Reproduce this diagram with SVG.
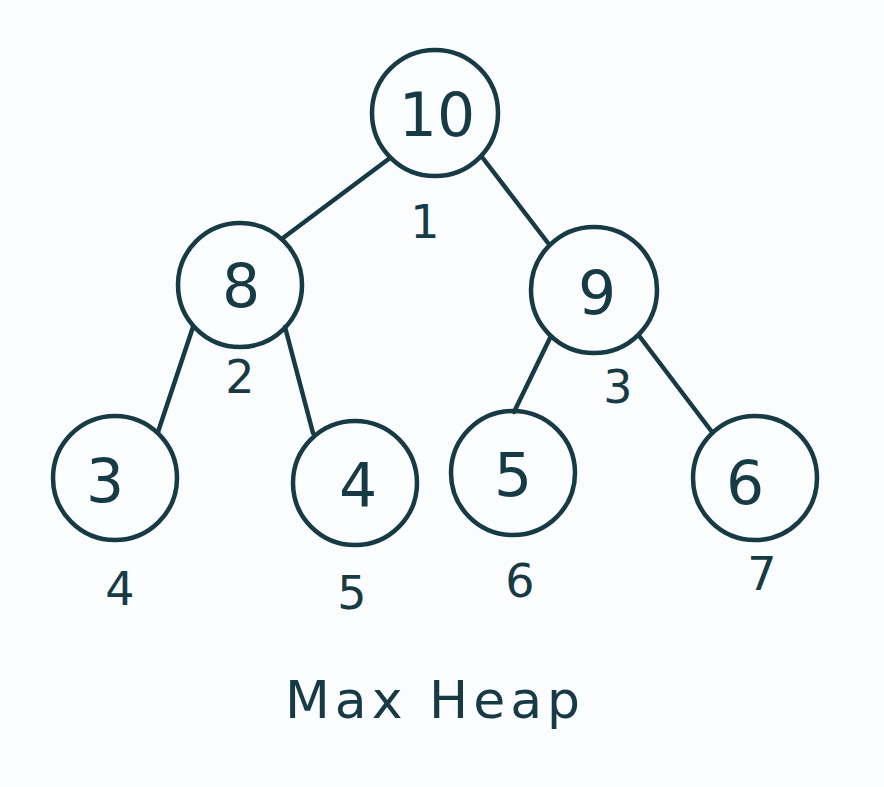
<svg xmlns="http://www.w3.org/2000/svg" width="884" height="787" viewBox="0 0 884 787">
<style>
.n{fill:none;stroke:#173b45;stroke-width:4.5}
.e{stroke:#173b45;stroke-width:4.5;stroke-linecap:round}
.v{font-family:"DejaVu Sans","Liberation Sans",sans-serif;font-size:60px;fill:#173b45;text-anchor:middle}
.i{font-family:"DejaVu Sans","Liberation Sans",sans-serif;font-size:46px;fill:#173b45;text-anchor:middle}
.t{font-family:"DejaVu Sans","Liberation Sans",sans-serif;font-size:52px;fill:#173b45;text-anchor:middle;letter-spacing:5px}
</style>
<rect width="884" height="787" fill="#fbfcfd"/>
<g id="connectors">
<line class="e" x1="390" y1="158" x2="283" y2="238"/>
<line class="e" x1="482" y1="157" x2="548" y2="243"/>
<line class="e" x1="193" y1="327" x2="158" y2="432"/>
<line class="e" x1="285" y1="327" x2="313" y2="433"/>
<line class="e" x1="550" y1="338" x2="514" y2="412"/>
<line class="e" x1="640" y1="337" x2="712" y2="432"/>
</g>
<g id="n10"><circle class="n" cx="435" cy="113" r="63"/><text class="v" x="437" y="136">10</text><text class="i" x="425" y="238">1</text></g>
<g id="n8"><circle class="n" cx="240" cy="285" r="62"/><text class="v" x="241" y="307">8</text><text class="i" x="240" y="393">2</text></g>
<g id="n9"><circle class="n" cx="594" cy="290" r="63"/><text class="v" x="597" y="314">9</text><text class="i" x="618" y="403">3</text></g>
<g id="n3"><circle class="n" cx="115" cy="478" r="62"/><text class="v" x="105" y="502">3</text><text class="i" x="120" y="605">4</text></g>
<g id="n4"><circle class="n" cx="355" cy="483" r="62"/><text class="v" x="358" y="506">4</text><text class="i" x="352" y="609">5</text></g>
<g id="n5"><circle class="n" cx="513" cy="473" r="62"/><text class="v" x="513" y="496">5</text><text class="i" x="520" y="597">6</text></g>
<g id="n6"><circle class="n" cx="755" cy="478" r="62"/><text class="v" x="745" y="504">6</text><text class="i" x="762" y="590">7</text></g>
<text class="t" x="435" y="718">Max Heap</text>
</svg>
